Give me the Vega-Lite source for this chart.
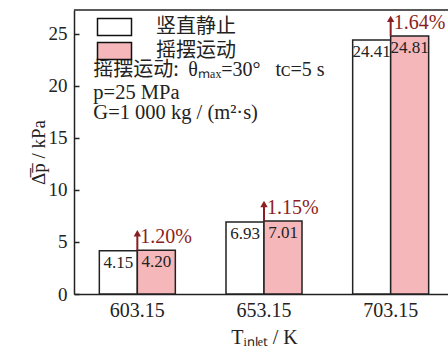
{
  "$schema": "https://vega.github.io/schema/vega-lite/v6.json",
  "width": 374,
  "height": 284,
  "autosize": {"type": "none"},
  "padding": {"left": 74, "top": 10, "right": 0, "bottom": 53},
  "config": {
    "view": {"stroke": null},
    "font": "Liberation Serif",
    "axis": {"domainColor": "#222", "domainWidth": 1.5, "tickColor": "#222", "tickWidth": 1.5, "labelColor": "#222", "titleColor": "#222", "titleFontWeight": "normal", "grid": false}
  },
  "data": {
    "values": [
      {"T": "603.15", "series": "竖直静止", "dp": 4.15},
      {"T": "603.15", "series": "摇摆运动", "dp": 4.20, "pct": "1.20%"},
      {"T": "653.15", "series": "竖直静止", "dp": 6.93},
      {"T": "653.15", "series": "摇摆运动", "dp": 7.01, "pct": "1.15%"},
      {"T": "703.15", "series": "竖直静止", "dp": 24.41},
      {"T": "703.15", "series": "摇摆运动", "dp": 24.81, "pct": "1.64%"}
    ]
  },
  "encoding": {
    "x": {
      "field": "T", "type": "nominal",
      "scale": {"rangeMax": 380, "paddingInner": 0.4, "paddingOuter": 0.2},
      "axis": {"ticks": false, "labelAngle": 0, "labelFontSize": 20, "labelPadding": 6, "titleFontSize": 20, "titlePadding": 7},
      "title": "Tᵢₙₗₑₜ / K"
    },
    "y": {
      "field": "dp", "type": "quantitative",
      "scale": {"domain": [0, 27.3], "nice": false},
      "axis": {"values": [0, 5, 10, 15, 20, 25], "tickSize": -5, "labelFontSize": 19, "labelPadding": 12, "titleFontSize": 19, "titlePadding": 0},
      "title": "Δ̅p̅ / kPa"
    }
  },
  "layer": [
    {
      "mark": {"type": "bar", "stroke": "#222", "strokeWidth": 1.5},
      "encoding": {
        "xOffset": {"field": "series", "sort": ["竖直静止", "摇摆运动"], "scale": {"paddingInner": 0, "paddingOuter": 0}},
        "fill": {
          "field": "series", "type": "nominal",
          "scale": {"domain": ["竖直静止", "摇摆运动"], "range": ["#ffffff", "#F5B7B9"]},
          "legend": {
            "title": null, "orient": "none", "legendX": 30.5, "legendY": 7,
            "symbolType": "M-2,-1H2V1H-2Z", "symbolSize": 289,
            "symbolStrokeColor": "#111", "symbolStrokeWidth": 1.5,
            "labelFont": "Noto Sans CJK SC", "labelFontSize": 20, "labelColor": "#222",
            "rowPadding": 0, "labelOffset": 31.5, "padding": 0
          }
        }
      }
    },
    {
      "mark": {"type": "text", "baseline": "top", "dy": 4, "fontSize": 17, "color": "#222"},
      "encoding": {
        "xOffset": {"field": "series", "sort": ["竖直静止", "摇摆运动"], "scale": {"paddingInner": 0, "paddingOuter": 0}},
        "text": {"field": "dp", "type": "quantitative", "format": ".2f"}
      }
    },
    {
      "transform": [{"filter": "isValid(datum.pct)"}],
      "mark": {"type": "rule", "color": "#8B1E22", "strokeWidth": 2, "y2Offset": -16},
      "encoding": {"y2": {"field": "dp"}}
    },
    {
      "transform": [{"filter": "isValid(datum.pct)"}],
      "mark": {"type": "point", "shape": "triangle-up", "filled": true, "color": "#8B1E22", "opacity": 1, "size": 55, "yOffset": -17},
      "encoding": {}
    },
    {
      "transform": [{"filter": "isValid(datum.pct)"}],
      "mark": {"type": "text", "align": "left", "baseline": "middle", "dx": 3, "dy": -13, "fontSize": 20, "color": "#8B1E22"},
      "encoding": {"text": {"field": "pct"}}
    },
    {
      "transform": [{"filter": "datum.dp == 4.15"}],
      "mark": {"type": "rule", "color": "#222", "strokeWidth": 1.5},
      "encoding": {"x": null, "y": {"datum": 27.3}}
    },
    {
      "transform": [{"filter": "datum.dp == 4.15"}],
      "mark": {"type": "text", "align": "left", "baseline": "middle", "dx": -6, "fontSize": 20, "color": "#222", "font": "Noto Sans CJK SC"},
      "encoding": {"x": {"datum": "603.15", "bandPosition": 0}, "y": {"datum": 21.5}, "text": {"value": "摇摆运动:"}}
    },
    {
      "transform": [{"filter": "datum.dp == 4.15"}],
      "mark": {"type": "text", "align": "left", "baseline": "middle", "dx": 89, "fontSize": 20, "color": "#222"},
      "encoding": {"x": {"datum": "603.15", "bandPosition": 0}, "y": {"datum": 21.5}, "text": {"value": "θₘₐₓ=30° \u2002tᴄ=5 s"}}
    },
    {
      "transform": [{"filter": "datum.dp == 4.15"}],
      "mark": {"type": "text", "align": "left", "baseline": "middle", "dx": -6, "fontSize": 20.5, "color": "#222"},
      "encoding": {"x": {"datum": "603.15", "bandPosition": 0}, "y": {"datum": 19.3}, "text": {"value": "p=25 MPa"}}
    },
    {
      "transform": [{"filter": "datum.dp == 4.15"}],
      "mark": {"type": "text", "align": "left", "baseline": "middle", "dx": -6, "fontSize": 20.5, "color": "#222"},
      "encoding": {"x": {"datum": "603.15", "bandPosition": 0}, "y": {"datum": 17.4}, "text": {"value": "G=1 000 kg / (m²·s)"}}
    }
  ]
}
